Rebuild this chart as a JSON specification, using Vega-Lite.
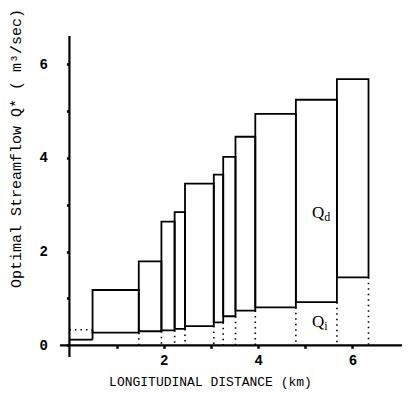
{
  "$schema": "https://vega.github.io/schema/vega-lite/v6.json",
  "width": 342,
  "height": 321,
  "autosize": {"type": "none"},
  "padding": {"left": 60, "top": 36, "right": 10, "bottom": 37},
  "background": "white",
  "config": {"view": {"stroke": null}, "font": "Liberation Mono"},
  "datasets": {
    "bars": [
      {"x0": 0.49, "x1": 1.47, "qi": 0.27, "qd": 1.18},
      {"x0": 1.47, "x1": 1.95, "qi": 0.30, "qd": 1.79},
      {"x0": 1.95, "x1": 2.23, "qi": 0.32, "qd": 2.64},
      {"x0": 2.23, "x1": 2.45, "qi": 0.35, "qd": 2.84},
      {"x0": 2.45, "x1": 3.06, "qi": 0.41, "qd": 3.45},
      {"x0": 3.06, "x1": 3.26, "qi": 0.49, "qd": 3.64},
      {"x0": 3.26, "x1": 3.52, "qi": 0.62, "qd": 4.02},
      {"x0": 3.52, "x1": 3.94, "qi": 0.74, "qd": 4.45},
      {"x0": 3.94, "x1": 4.80, "qi": 0.81, "qd": 4.94},
      {"x0": 4.80, "x1": 5.67, "qi": 0.92, "qd": 5.24},
      {"x0": 5.67, "x1": 6.34, "qi": 1.45, "qd": 5.68}
    ],
    "seg0": [{"x0": 0, "x1": 0.49, "qi": 0.12, "qd": 0.33}],
    "labels": [
      {"x": 5.40, "y": 2.83, "main": "Q", "sub": "d"},
      {"x": 5.40, "y": 0.50, "main": "Q", "sub": "i"}
    ]
  },
  "layer": [
    {
      "data": {"name": "bars"},
      "mark": {"type": "rect", "fillOpacity": 0, "fill": "white", "stroke": "black", "strokeWidth": 1.8},
      "encoding": {
        "x": {
          "field": "x0", "type": "quantitative",
          "scale": {"domain": [-0.2, 7.05], "nice": false, "zero": false},
          "axis": {
            "values": [1, 2, 3, 4, 5, 6],
            "domain": false, "grid": false, "offset": -11.7,
            "tickSize": 3, "tickWidth": 2.5, "tickColor": "black",
            "labelExpr": "datum.value % 2 == 0 ? datum.label : ''",
            "labelOverlap": false, "labelFont": "Liberation Mono", "labelFontSize": 14, "labelFontWeight": "bold",
            "labelColor": "black", "labelPadding": 5,
            "title": "LONGITUDINAL DISTANCE (km)",
            "titleFont": "Liberation Mono", "titleFontSize": 13, "titleFontWeight": "normal", "titleColor": "black",
            "titleX": 150, "titleY": 36, "titleBaseline": "middle", "titleAlign": "center"
          }
        },
        "x2": {"field": "x1"},
        "y": {
          "field": "qi", "type": "quantitative",
          "scale": {"domain": [-0.25, 6.6], "nice": false, "zero": false},
          "axis": {
            "values": [0, 1, 2, 3, 4, 5, 6],
            "domain": false, "grid": false, "offset": -9.4,
            "tickSize": 3, "tickWidth": 2.5, "tickColor": "black",
            "labelExpr": "datum.value % 2 == 0 ? datum.label : ''",
            "labelOverlap": false, "labelFont": "Liberation Mono", "labelFontSize": 14, "labelFontWeight": "bold",
            "labelColor": "black", "labelPadding": 19,
            "title": "Optimal Streamflow Q* ( m³/sec)",
            "titleFont": "Liberation Mono", "titleFontSize": 15, "titleFontWeight": "normal", "titleColor": "black",
            "titleX": -54, "titleY": 112, "titleAngle": -90, "titleBaseline": "middle", "titleAlign": "center"
          }
        },
        "y2": {"field": "qd"}
      }
    },
    {
      "data": {"name": "bars"},
      "mark": {"type": "rule", "stroke": "black", "strokeWidth": 1.6, "strokeDash": [1.5, 4]},
      "encoding": {
        "x": {"field": "x1", "type": "quantitative"},
        "y": {"field": "qi", "type": "quantitative"},
        "y2": {"datum": 0}
      }
    },
    {
      "data": {"name": "seg0"},
      "mark": {"type": "rule", "stroke": "black", "strokeWidth": 1.8},
      "encoding": {
        "x": {"field": "x0", "type": "quantitative"},
        "x2": {"field": "x1"},
        "y": {"field": "qi", "type": "quantitative"}
      }
    },
    {
      "data": {"name": "seg0"},
      "mark": {"type": "rule", "stroke": "black", "strokeWidth": 1.8},
      "encoding": {
        "x": {"field": "x1", "type": "quantitative"},
        "y": {"field": "qi", "type": "quantitative"},
        "y2": {"field": "qd"}
      }
    },
    {
      "data": {"name": "seg0"},
      "mark": {"type": "rule", "stroke": "black", "strokeWidth": 1.6, "strokeDash": [1.5, 4]},
      "encoding": {
        "x": {"field": "x0", "type": "quantitative"},
        "x2": {"field": "x1"},
        "y": {"field": "qd", "type": "quantitative"}
      }
    },
    {
      "data": {"name": "seg0"},
      "mark": {"type": "rule", "stroke": "black", "strokeWidth": 2.2},
      "encoding": {
        "x": {"datum": 0, "type": "quantitative"}
      }
    },
    {
      "data": {"name": "seg0"},
      "mark": {"type": "rule", "stroke": "black", "strokeWidth": 2.2},
      "encoding": {
        "y": {"datum": 0, "type": "quantitative"}
      }
    },
    {
      "data": {"name": "labels"},
      "mark": {"type": "text", "align": "right", "baseline": "middle", "font": "Liberation Serif", "fontSize": 17, "fill": "black"},
      "encoding": {
        "x": {"field": "x", "type": "quantitative"},
        "y": {"field": "y", "type": "quantitative"},
        "text": {"field": "main"}
      }
    },
    {
      "data": {"name": "labels"},
      "mark": {"type": "text", "align": "left", "baseline": "middle", "dy": 4, "font": "Liberation Serif", "fontSize": 12, "fill": "black"},
      "encoding": {
        "x": {"field": "x", "type": "quantitative"},
        "y": {"field": "y", "type": "quantitative"},
        "text": {"field": "sub"}
      }
    }
  ]
}
